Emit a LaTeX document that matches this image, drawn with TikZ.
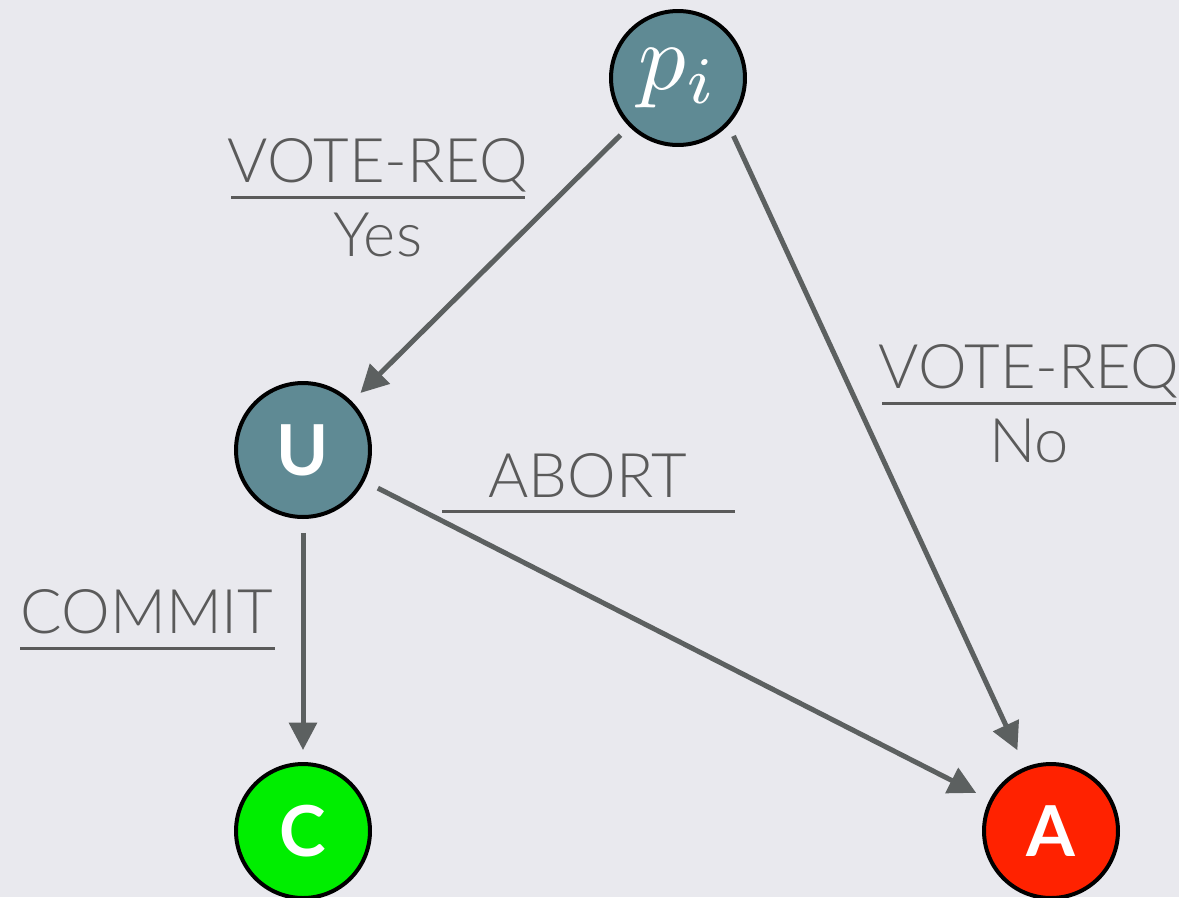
\documentclass[tikz,border=0pt]{standalone}
\usepackage{fontspec}
\setmainfont{Lato}
\newfontfamily\lightfont{Lato Light}
\usetikzlibrary{arrows.meta}
\definecolor{bg}{HTML}{E9E9EE}
\definecolor{teal}{HTML}{5F8A94}
\definecolor{okgreen}{HTML}{00EE00}
\definecolor{badred}{HTML}{FF2200}
\definecolor{ink}{HTML}{5A5A5A}
\definecolor{arrowgray}{HTML}{5C6060}
\tikzset{
  state/.style={circle, draw=black, line width=0.08cm, minimum size=2.68cm, inner sep=0pt, text=white,
    font=\fontsize{40}{42}\selectfont\bfseries},
  edge/.style={draw=arrowgray, line width=0.1cm, -{Triangle[length=0.55cm,width=0.55cm]}},
  lbl/.style={text=ink, anchor=base, inner sep=0pt, font=\lightfont\fontsize{35}{37}\selectfont},
  bar/.style={draw=ink, line width=0.06cm}
}
\begin{document}
\begin{tikzpicture}[x=0.02cm,y=-0.02cm]
\fill[bg] (0,0) rectangle (1179,897);
\useasboundingbox (0,0) rectangle (1179,897);

\node[state, fill=teal] (p) at (678,78) {\normalsize\scalebox{5.4}{$p_i$}};
\node[state, fill=teal] (u) at (303,450) {U};
\node[state, fill=okgreen] (c) at (303,831) {C};
\node[state, fill=badred] (a) at (1051,831) {A};

\draw[edge, shorten <=0.24cm, shorten >=0.24cm] (p) -- (u);
\draw[edge, shorten <=0.24cm, shorten >=0.37cm] (p.-43) -- (a.112);
\draw[edge, shorten <=0.28cm, shorten >=0.24cm] (u) -- (c);
\draw[edge, shorten <=0.3cm, shorten >=0.3cm] (u) -- (a);

\node[lbl] (l1) at (378,182) {VOTE-REQ};
\draw[bar] (231,197) -- (525,197);
\node[lbl] (l2) at (378,256) {Yes};

\node[lbl] (l3) at (1029,388) {VOTE-REQ};
\draw[bar] (882,403) -- (1176,403);
\node[lbl] (l4) at (1029,462) {No};

\node[lbl] (l5) at (588,497) {ABORT};
\draw[bar] (442,511) -- (735,511);

\node[lbl] (l6) at (147,633) {COMMIT};
\draw[bar] (20,648) -- (275,648);
\end{tikzpicture}
\end{document}
